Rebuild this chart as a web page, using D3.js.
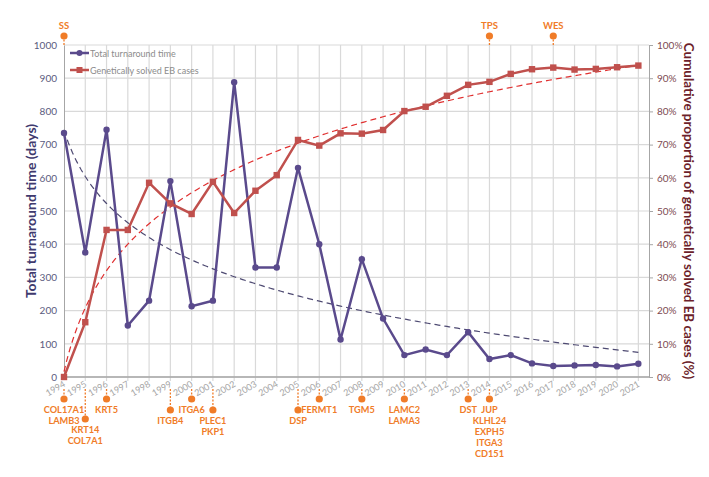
<!DOCTYPE html>
<html>
<head>
<meta charset="utf-8">
<script src="https://cdn.jsdelivr.net/npm/d3@7"></script>
<style>
  body { margin: 0; background: #fff; }
  text { font-family: Lato, "Open Sans", sans-serif; }
</style>
</head>
<body>
<script>
// data
var years = d3.range(1994, 2022);
var turnaround = [735, 375, 745, 155, 230, 590, 213, 230, 888, 330, 330, 630, 400, 113,
                  355, 176, 66, 83, 66, 135, 54, 66, 41, 33, 35, 36, 32, 40];
var solvedPct = [0, 16.5, 44.3, 44.3, 58.5, 52.3, 49.1, 58.8, 49.4, 56.1, 60.8, 71.4, 69.7, 73.4,
                 73.3, 74.4, 80.1, 81.4, 84.7, 88.0, 88.9, 91.3, 92.7, 93.2, 92.6, 92.8, 93.3, 93.8];
var leftTicks = d3.range(0, 1001, 100);
var rightTicks = d3.range(0, 101, 10);
var geneYears = [1994, 1995, 1996, 1999, 2000, 2001, 2005, 2006, 2008, 2010, 2013, 2014];
var geneLabels = [["COL17A1", "LAMB3"], ["KRT14", "COL7A1"], ["KRT5"], ["ITGB4"], ["ITGA6"],
                  ["PLEC1", "PKP1"], ["DSP"], ["FERMT1"], ["TGM5"], ["LAMC2", "LAMA3"], ["DST"],
                  ["JUP", "KLHL24", "EXPH5", "ITGA3", "CD151"]];
var geneLevel = [0, 2, 0, 1, 0, 1, 1, 0, 0, 0, 0, 0];
var methodYears = [1994, 2014, 2017];
var methodLabels = ["SS", "TPS", "WES"];

var W = 709, H = 477;
var L = 64, R = 649, T = 45, B = 377;
var purple = "#5a4a8c", red = "#c0504d", orange = "#f07c28", grid = "#d9d9d9";

var svg = d3.select("body").append("svg").attr("width", W).attr("height", H);

var x = d3.scaleLinear().domain([1994, 2021.5]).range([L, R]);
var yL = d3.scaleLinear().domain([0, 1000]).range([B, T]);
var yR = d3.scaleLinear().domain([0, 100]).range([B, T]);

// gridlines
svg.append("g").selectAll("line").data(leftTicks).enter().append("line")
  .attr("x1", L).attr("x2", R).attr("y1", function(d) { return yL(d); }).attr("y2", function(d) { return yL(d); })
  .attr("stroke", grid).attr("stroke-width", 1.2);
svg.append("g").selectAll("line").data(years.slice(1)).enter().append("line")
  .attr("x1", function(d) { return x(d); }).attr("x2", function(d) { return x(d); })
  .attr("y1", T).attr("y2", B + 4)
  .attr("stroke", grid).attr("stroke-width", 1.2);

// axes
var axL = svg.append("g").attr("transform", "translate(" + L + ",0)")
  .call(d3.axisLeft(yL).tickValues(leftTicks).tickSize(0).tickPadding(7).tickFormat(d3.format("d")));
axL.select(".domain").attr("stroke", "#a6a6a6");
axL.selectAll("text").attr("fill", "#5b5b7e").attr("font-size", 10)
  .attr("font-family", "Lato, sans-serif");

var axR = svg.append("g").attr("transform", "translate(" + R + ",0)")
  .call(d3.axisRight(yR).tickValues(rightTicks).tickSize(4).tickPadding(4)
    .tickFormat(function(d) { return d + "%"; }));
axR.select(".domain").attr("stroke", "#a6a6a6");
axR.selectAll("line").attr("stroke", "#a6a6a6");
axR.selectAll("text").attr("fill", "#7d4a52").attr("font-size", 10)
  .attr("font-family", "Lato, sans-serif");

svg.append("line").attr("x1", L).attr("x2", R).attr("y1", B).attr("y2", B)
  .attr("stroke", "#a6a6a6").attr("stroke-width", 1.5);

// year labels
svg.append("g").selectAll("text").data(years).enter().append("text")
  .attr("transform", function(d) { return "translate(" + (x(d) + 2) + "," + (B + 9) + ") rotate(-30)"; })
  .attr("text-anchor", "end").attr("font-size", 9).attr("fill", "#a6a6a6")
  .text(function(d) { return d; });

// logarithmic trend lines (least squares on ln of the index)
function logFit(vals) {
  var lx = vals.map(function(v, i) { return Math.log(i + 1); });
  var mx = d3.mean(lx), my = d3.mean(vals);
  var sxy = d3.sum(lx, function(v, i) { return (v - mx) * (vals[i] - my); });
  var sxx = d3.sum(lx, function(v) { return (v - mx) * (v - mx); });
  var b = sxy / sxx, a = my - b * mx;
  return function(t) { return a + b * Math.log(t); };
}
var fitT = logFit(turnaround), fitS = logFit(solvedPct);
var tt = d3.range(1, 28.001, 0.1);

svg.append("path").datum(tt)
  .attr("d", d3.line().x(function(t) { return x(1993 + t); }).y(function(t) { return yL(fitT(t)); }))
  .attr("fill", "none").attr("stroke", "#4e4a72").attr("stroke-width", 1.2).attr("stroke-dasharray", "6,4");
svg.append("path").datum(tt)
  .attr("d", d3.line().x(function(t) { return x(1993 + t); }).y(function(t) { return yR(Math.max(0, fitS(t))); }))
  .attr("fill", "none").attr("stroke", "#e03030").attr("stroke-width", 1.2).attr("stroke-dasharray", "6,4");

// turnaround series
svg.append("path").datum(turnaround)
  .attr("d", d3.line().x(function(d, i) { return x(years[i]); }).y(function(d) { return yL(d); }))
  .attr("fill", "none").attr("stroke", purple).attr("stroke-width", 2.5);
svg.append("g").selectAll("circle").data(turnaround).enter().append("circle")
  .attr("cx", function(d, i) { return x(years[i]); }).attr("cy", function(d) { return yL(d); })
  .attr("r", 3.2).attr("fill", purple);

// solved series
svg.append("path").datum(solvedPct)
  .attr("d", d3.line().x(function(d, i) { return x(years[i]); }).y(function(d) { return yR(d); }))
  .attr("fill", "none").attr("stroke", red).attr("stroke-width", 2.5);
svg.append("g").selectAll("rect").data(solvedPct).enter().append("rect")
  .attr("x", function(d, i) { return x(years[i]) - 3.2; }).attr("y", function(d) { return yR(d) - 3.2; })
  .attr("width", 6.4).attr("height", 6.4).attr("fill", red);

// legend
var leg = [["Total turnaround time", purple, "circle"], ["Genetically solved EB cases", red, "rect"]];
leg.forEach(function(l, i) {
  var ly = 53 + i * 17;
  svg.append("line").attr("x1", 70).attr("x2", 89).attr("y1", ly).attr("y2", ly)
    .attr("stroke", l[1]).attr("stroke-width", 2.5);
  if (l[2] == "circle") svg.append("circle").attr("cx", 79.5).attr("cy", ly).attr("r", 3).attr("fill", l[1]);
  else svg.append("rect").attr("x", 76.5).attr("y", ly - 3).attr("width", 6).attr("height", 6).attr("fill", l[1]);
  svg.append("text").attr("x", 90).attr("y", ly + 3.5).attr("font-size", 9).attr("fill", "#8c8c8c").text(l[0]);
});

// method annotations on top
methodYears.forEach(function(yr, i) {
  var cx = x(yr);
  svg.append("line").attr("x1", cx).attr("x2", cx).attr("y1", 36).attr("y2", T)
    .attr("stroke", orange).attr("stroke-width", 1.3).attr("stroke-dasharray", "2,1.5");
  svg.append("circle").attr("cx", cx).attr("cy", 36).attr("r", 3.6).attr("fill", orange);
  svg.append("text").attr("x", cx).attr("y", 29).attr("text-anchor", "middle")
    .attr("font-size", 9.5).attr("font-weight", "bold").attr("fill", orange).text(methodLabels[i]);
});

// gene annotations below
var levelY = [399, 410, 419];
geneYears.forEach(function(yr, i) {
  var cx = x(yr);
  var dy = levelY[geneLevel[i]];
  svg.append("line").attr("x1", cx).attr("x2", cx).attr("y1", 389).attr("y2", dy)
    .attr("stroke", orange).attr("stroke-width", 1.3).attr("stroke-dasharray", "2,1.5");
  svg.append("circle").attr("cx", cx).attr("cy", dy).attr("r", 3.6).attr("fill", orange);
  geneLabels[i].forEach(function(g, j) {
    svg.append("text").attr("x", cx).attr("y", dy + 13.5 + j * 11).attr("text-anchor", "middle")
      .attr("font-size", 9.2).attr("font-weight", "bold").attr("fill", orange).text(g);
  });
});

// axis titles
svg.append("text").attr("transform", "translate(36," + ((T + B) / 2) + ") rotate(-90)")
  .attr("text-anchor", "middle").attr("font-size", 14).attr("font-weight", "bold")
  .attr("fill", "#3f3a6e").text("Total turnaround time (days)");
svg.append("text").attr("transform", "translate(684," + ((T + B) / 2) + ") rotate(90)")
  .attr("text-anchor", "middle").attr("font-size", 13.4).attr("font-weight", "bold")
  .attr("fill", "#6d1f2b").text("Cumulative proportion of genetically solved EB cases (%)");
</script>
</body>
</html>
